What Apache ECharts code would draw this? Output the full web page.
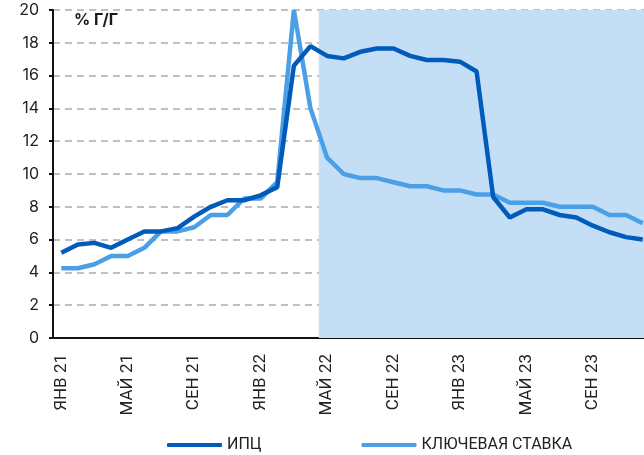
<!DOCTYPE html>
<html><head><meta charset="utf-8">
<script src="https://cdn.jsdelivr.net/npm/echarts@6/dist/echarts.min.js"></script>
<style>html,body{margin:0;padding:0;overflow:hidden;background:#fff}#c{width:660px;height:455px}</style>
</head><body><div id="c"></div>
<script>
const categories = [
 'ЯНВ 21','ФЕВ 21','МАР 21','АПР 21','МАЙ 21','ИЮН 21','ИЮЛ 21','АВГ 21','СЕН 21','ОКТ 21','НОЯ 21','ДЕК 21',
 'ЯНВ 22','ФЕВ 22','МАР 22','АПР 22','МАЙ 22','ИЮН 22','ИЮЛ 22','АВГ 22','СЕН 22','ОКТ 22','НОЯ 22','ДЕК 22',
 'ЯНВ 23','ФЕВ 23','МАР 23','АПР 23','МАЙ 23','ИЮН 23','ИЮЛ 23','АВГ 23','СЕН 23','ОКТ 23','НОЯ 23','ДЕК 23'];
const cpi = [5.2,5.7,5.8,5.5,6.0,6.5,6.5,6.7,7.4,8.0,8.4,8.4,
 8.7,9.2,16.6,17.8,17.2,17.05,17.45,17.65,17.65,17.2,16.95,16.95,
 16.85,16.25,8.6,7.35,7.85,7.85,7.5,7.35,6.85,6.45,6.15,6.0];
const keyRate = [4.25,4.25,4.5,5.0,5.0,5.5,6.5,6.5,6.75,7.5,7.5,8.5,
 8.5,9.5,20,14.0,11.0,10.0,9.75,9.75,9.5,9.25,9.25,9.0,
 9.0,8.75,8.75,8.25,8.25,8.25,8.0,8.0,8.0,7.5,7.5,7.0];
const seriesNames = ['ИПЦ','КЛЮЧЕВАЯ СТАВКА'];
const unitLabel = '% Г/Г';
const shadeFrom = 'МАЙ 22';
const yTicks = [0,2,4,6,8,10,12,14,16,18,20];

const chart = echarts.init(document.getElementById('c'));
const shadeStart = categories.indexOf(shadeFrom);
chart.setOption({
  animation:false,
  textStyle:{fontFamily:'Inter'},
  grid:{left:53,top:10,width:598,height:328,containLabel:false},
  graphic:[{type:'text',left:74,top:12,z:10,style:{text:unitLabel,font:'bold 16px Inter',fill:'#1a1a1a'}}],
  legend:{left:167,bottom:2,padding:0,itemWidth:55,itemHeight:4,itemGap:100,icon:'roundRect',
    textStyle:{fontFamily:'Roboto',fontSize:16,color:'#222'},data:seriesNames},
  xAxis:[{type:'category',data:categories,boundaryGap:true,
     axisLine:{lineStyle:{color:'#111',width:2}},
     axisTick:{interval:3,length:5,lineStyle:{color:'#111',width:2}},
     axisLabel:{interval:3,rotate:90,margin:16,fontSize:17,color:'#222',fontFamily:'Roboto'}},
    {type:'value',min:0,max:categories.length,show:false}],
  yAxis:{type:'value',min:yTicks[0],max:yTicks[yTicks.length-1],interval:2,
     axisLine:{show:true,lineStyle:{color:'#111',width:2}},
     axisTick:{show:true,length:4,lineStyle:{color:'#111',width:2}},
     axisLabel:{fontSize:16,color:'#222',margin:14,fontFamily:'Inter'},
     splitLine:{lineStyle:{color:'#c0c0c0',width:2,type:[7,5]}}},
  series:[
    {type:'line',xAxisIndex:1,data:[],silent:true,z:1,
     markArea:{silent:true,itemStyle:{color:'#c4dff5'},data:[[{xAxis:shadeStart},{xAxis:categories.length}]]}},
    {name:seriesNames[0],type:'line',data:cpi,showSymbol:false,z:3,
     lineStyle:{color:'#005bbb',width:4.5},itemStyle:{color:'#005bbb'}},
    {name:seriesNames[1],type:'line',data:keyRate,showSymbol:false,z:2,
     lineStyle:{color:'#4a9fe6',width:4.5},itemStyle:{color:'#4a9fe6'}}
  ]
});
</script></body></html>
